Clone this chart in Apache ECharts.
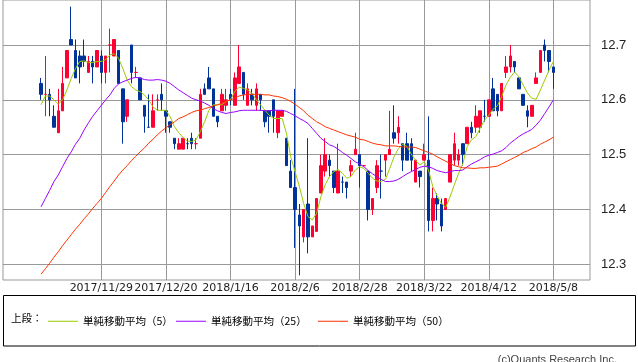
<!DOCTYPE html>
<html><head><meta charset="utf-8">
<script src="https://cdn.jsdelivr.net/npm/echarts@6/dist/echarts.min.js"></script>
<style>html,body{margin:0;padding:0;background:#fff}#c{width:638px;height:362px}</style>
</head><body><div id="c"></div>
<script>
// Trading dates (Japanese calendar)
const dates = [
 '2017/11/8','2017/11/9','2017/11/10','2017/11/13','2017/11/14','2017/11/15','2017/11/16','2017/11/17','2017/11/20','2017/11/21','2017/11/22','2017/11/24','2017/11/27','2017/11/28','2017/11/29','2017/11/30',
 '2017/12/1','2017/12/4','2017/12/5','2017/12/6','2017/12/7','2017/12/8','2017/12/11','2017/12/12','2017/12/13','2017/12/14','2017/12/15','2017/12/18','2017/12/19','2017/12/20','2017/12/21','2017/12/22','2017/12/25','2017/12/26','2017/12/27','2017/12/28','2017/12/29',
 '2018/1/4','2018/1/5','2018/1/9','2018/1/10','2018/1/11','2018/1/12','2018/1/15','2018/1/16','2018/1/17','2018/1/18','2018/1/19','2018/1/22','2018/1/23','2018/1/24','2018/1/25','2018/1/26','2018/1/29','2018/1/30','2018/1/31',
 '2018/2/1','2018/2/2','2018/2/5','2018/2/6','2018/2/7','2018/2/8','2018/2/9','2018/2/13','2018/2/14','2018/2/15','2018/2/16','2018/2/19','2018/2/20','2018/2/21','2018/2/22','2018/2/23','2018/2/26','2018/2/27','2018/2/28',
 '2018/3/1','2018/3/2','2018/3/5','2018/3/6','2018/3/7','2018/3/8','2018/3/9','2018/3/12','2018/3/13','2018/3/14','2018/3/15','2018/3/16','2018/3/19','2018/3/20','2018/3/22','2018/3/23','2018/3/26','2018/3/27','2018/3/28','2018/3/29','2018/3/30',
 '2018/4/2','2018/4/3','2018/4/4','2018/4/5','2018/4/6','2018/4/9','2018/4/10','2018/4/11','2018/4/12','2018/4/13','2018/4/16','2018/4/17','2018/4/18','2018/4/19','2018/4/20','2018/4/23','2018/4/24','2018/4/25','2018/4/26','2018/4/27',
 '2018/5/1','2018/5/2','2018/5/7','2018/5/8'
];
const opens = [
 12.63,12.61,12.61,12.57,12.54,12.58,12.64,12.71,12.69,12.68,
 12.68,12.65,12.67,12.66,12.68,12.65,12.70,12.68,12.69,12.62,
 12.57,12.70,12.65,12.64,12.59,12.55,12.55,12.60,12.61,12.58,
 12.56,12.53,12.51,12.51,12.52,12.53,12.52,12.53,12.62,12.64,
 12.62,12.57,12.58,12.59,12.61,12.59,12.63,12.65,12.59,12.61,
 12.59,12.61,12.58,12.58,12.60,12.54,12.57,12.53,12.47,12.44,
 12.39,12.35,12.41,12.35,12.36,12.43,12.47,12.49,12.47,12.43,
 12.45,12.45,12.47,12.50,12.50,12.48,12.47,12.40,12.44,12.47,
 12.49,12.50,12.54,12.54,12.52,12.52,12.52,12.45,12.47,12.49,
 12.49,12.38,12.42,12.41,12.40,12.45,12.49,12.49,12.52,12.52,
 12.55,12.55,12.55,12.57,12.57,12.62,12.61,12.58,12.65,12.66,
 12.67,12.64,12.61,12.58,12.57,12.63,12.65,12.70,12.69,12.66
];
const closes = [
 12.61,12.61,12.60,12.55,12.58,12.63,12.69,12.70,12.64,12.66,
 12.67,12.67,12.66,12.69,12.65,12.68,12.70,12.71,12.63,12.56,
 12.60,12.65,12.65,12.60,12.57,12.55,12.58,12.60,12.60,12.57,
 12.55,12.52,12.52,12.53,12.52,12.52,12.52,12.61,12.61,12.62,
 12.57,12.56,12.61,12.60,12.60,12.64,12.66,12.61,12.62,12.60,
 12.62,12.60,12.56,12.57,12.57,12.58,12.58,12.48,12.44,12.40,
 12.37,12.40,12.35,12.37,12.42,12.48,12.50,12.48,12.44,12.47,
 12.45,12.44,12.48,12.51,12.48,12.48,12.40,12.42,12.48,12.47,
 12.50,12.51,12.53,12.55,12.49,12.49,12.49,12.49,12.46,12.50,
 12.38,12.42,12.41,12.37,12.42,12.50,12.52,12.50,12.50,12.55,
 12.54,12.57,12.58,12.57,12.60,12.58,12.58,12.63,12.66,12.68,
 12.66,12.62,12.59,12.57,12.59,12.64,12.69,12.69,12.67,12.65
];
const lows = [
 12.60,12.57,12.57,12.55,12.54,12.58,12.64,12.70,12.64,12.63,
 12.66,12.65,12.63,12.66,12.63,12.63,12.65,12.68,12.63,12.52,
 12.56,12.63,12.64,12.60,12.54,12.55,12.55,12.58,12.58,12.54,
 12.54,12.51,12.51,12.51,12.51,12.51,12.51,12.53,12.61,12.62,
 12.57,12.55,12.58,12.58,12.59,12.59,12.63,12.60,12.59,12.59,
 12.58,12.58,12.55,12.54,12.54,12.53,12.57,12.48,12.44,12.33,
 12.28,12.34,12.32,12.35,12.36,12.43,12.46,12.46,12.43,12.43,
 12.43,12.42,12.46,12.50,12.44,12.48,12.38,12.39,12.43,12.42,
 12.46,12.50,12.52,12.52,12.47,12.49,12.47,12.45,12.44,12.49,
 12.36,12.36,12.38,12.36,12.40,12.45,12.48,12.48,12.48,12.52,
 12.53,12.54,12.54,12.56,12.57,12.58,12.57,12.58,12.64,12.65,
 12.65,12.62,12.59,12.55,12.57,12.63,12.65,12.67,12.65,12.62
];
const highs = [
 12.64,12.68,12.62,12.59,12.62,12.66,12.69,12.77,12.71,12.69,
 12.71,12.68,12.68,12.69,12.69,12.68,12.73,12.71,12.69,12.62,
 12.60,12.70,12.66,12.64,12.59,12.61,12.61,12.61,12.63,12.58,
 12.56,12.53,12.53,12.53,12.53,12.54,12.53,12.62,12.63,12.66,
 12.62,12.57,12.62,12.62,12.62,12.65,12.70,12.65,12.63,12.62,
 12.63,12.61,12.58,12.58,12.60,12.58,12.58,12.53,12.49,12.62,
 12.41,12.40,12.53,12.37,12.42,12.50,12.53,12.50,12.47,12.52,
 12.46,12.45,12.49,12.54,12.50,12.48,12.47,12.42,12.49,12.50,
 12.50,12.58,12.59,12.57,12.52,12.54,12.53,12.49,12.47,12.52,
 12.57,12.44,12.43,12.42,12.42,12.50,12.54,12.51,12.52,12.55,
 12.56,12.59,12.58,12.60,12.60,12.64,12.61,12.63,12.68,12.70,
 12.67,12.64,12.61,12.59,12.59,12.65,12.69,12.71,12.69,12.66
];
const ma5 = [
 12.591,12.607,12.607,12.600,12.592,12.600,12.618,12.639,12.657,12.670,
 12.671,12.668,12.668,12.670,12.670,12.673,12.682,12.684,12.676,12.657,
 12.636,12.624,12.618,12.615,12.609,12.600,12.587,12.581,12.581,12.581,
 12.569,12.551,12.540,12.531,12.525,12.524,12.527,12.542,12.560,12.581,
 12.591,12.591,12.591,12.597,12.600,12.615,12.623,12.621,12.618,12.612,
 12.600,12.591,12.581,12.572,12.566,12.566,12.566,12.539,12.496,12.469,
 12.442,12.411,12.387,12.381,12.393,12.423,12.445,12.460,12.469,12.473,
 12.466,12.457,12.460,12.472,12.478,12.475,12.466,12.457,12.452,12.451,
 12.455,12.475,12.496,12.511,12.519,12.515,12.501,12.490,12.481,12.487,
 12.472,12.442,12.425,12.411,12.404,12.423,12.445,12.466,12.484,12.515,
 12.527,12.533,12.548,12.563,12.572,12.583,12.589,12.606,12.627,12.641,
 12.651,12.642,12.627,12.612,12.603,12.601,12.618,12.636,12.654,12.670
];
const ma25 = [
 12.405,12.420,12.435,12.451,12.463,12.478,12.493,12.505,12.519,12.530,
 12.545,12.558,12.570,12.580,12.590,12.600,12.609,12.621,12.629,12.633,
 12.636,12.639,12.641,12.640,12.637,12.636,12.636,12.637,12.636,12.634,
 12.630,12.624,12.618,12.613,12.608,12.603,12.600,12.598,12.594,12.590,
 12.584,12.580,12.577,12.575,12.577,12.578,12.580,12.581,12.581,12.581,
 12.581,12.581,12.580,12.580,12.581,12.581,12.581,12.579,12.575,12.571,
 12.566,12.562,12.557,12.548,12.539,12.530,12.524,12.518,12.515,12.510,
 12.504,12.499,12.493,12.487,12.483,12.478,12.471,12.465,12.460,12.455,
 12.451,12.451,12.452,12.455,12.460,12.465,12.469,12.473,12.477,12.479,
 12.478,12.475,12.471,12.469,12.467,12.469,12.471,12.471,12.472,12.478,
 12.483,12.487,12.491,12.496,12.499,12.501,12.504,12.507,12.513,12.521,
 12.527,12.533,12.538,12.542,12.546,12.554,12.563,12.575,12.587,12.600
];
const ma50 = [
 12.282,12.292,12.302,12.313,12.323,12.334,12.344,12.354,12.364,12.373,
 12.383,12.392,12.402,12.411,12.420,12.431,12.442,12.452,12.463,12.472,
 12.480,12.489,12.497,12.505,12.512,12.521,12.528,12.536,12.543,12.549,
 12.555,12.560,12.566,12.569,12.573,12.577,12.580,12.581,12.584,12.586,
 12.589,12.591,12.594,12.597,12.600,12.603,12.607,12.609,12.610,12.610,
 12.610,12.610,12.609,12.609,12.607,12.606,12.604,12.601,12.597,12.592,
 12.586,12.580,12.572,12.566,12.560,12.556,12.551,12.548,12.545,12.542,
 12.539,12.536,12.534,12.532,12.528,12.527,12.524,12.521,12.519,12.518,
 12.516,12.516,12.516,12.515,12.514,12.514,12.514,12.513,12.510,12.507,
 12.504,12.501,12.496,12.492,12.488,12.484,12.480,12.478,12.476,12.476,
 12.475,12.475,12.476,12.476,12.477,12.478,12.479,12.483,12.487,12.491,
 12.495,12.499,12.504,12.507,12.511,12.514,12.519,12.523,12.527,12.532
];
const tickLabels = ['2017/11/29','2017/12/20','2018/1/16','2018/2/6','2018/2/28','2018/3/22','2018/4/12','2018/5/8'];
const yTicks = [12.3, 12.4, 12.5, 12.6, 12.7];
const seriesNames = ['単純移動平均（5）','単純移動平均（25）','単純移動平均（50）'];

// layout constants
const PAD_L = 8, PAD_R = 9;
const yMin = 12.2714, yMax = 12.7821;
const slot = 4.3048;
const cats = [];
for (let k = 0; k < PAD_L; k++) cats.push('_l' + k);
dates.forEach(d => cats.push(d));
for (let k = 0; k < PAD_R; k++) cats.push('_r' + k);
const pad = (arr) => [...Array(PAD_L).fill('-'), ...arr, ...Array(PAD_R).fill('-')];
const candle = pad(dates.map((d, i) => [opens[i], closes[i], lows[i], highs[i]]));
const isTick = (idx, val) => tickLabels.indexOf(val) >= 0;

const chart = echarts.init(document.getElementById('c'), null, {renderer: 'canvas'});
const FONT = "'Noto Sans CJK JP', sans-serif";
const grey = '#999';
const gridTopPx = 0, gridH = 280;
const pxPer = gridH / (yMax - yMin);
const yTopTick = gridTopPx + (yMax - yTicks[yTicks.length - 1]) * pxPer;
const yBotTick = gridTopPx + (yMax - yTicks[0]) * pxPer;

chart.setOption({
  animation: false,
  textStyle: {fontFamily: FONT},
  grid: [
    {left: 3, top: gridTopPx, width: 587, height: gridH, show: true, borderColor: grey, borderWidth: 1, backgroundColor: 'transparent'},
    {left: 3, top: yTopTick, width: 587, height: yBotTick - yTopTick},
    {left: 6.62, top: gridTopPx, width: slot * (cats.length - 1), height: gridH}
  ],
  xAxis: [
    {gridIndex: 0, type: 'value', show: false},
    {gridIndex: 1, type: 'value', show: false},
    {gridIndex: 2, type: 'category', data: cats, boundaryGap: false,
     axisLine: {show: false}, axisTick: {show: false},
     splitLine: {show: true, interval: isTick, lineStyle: {color: grey, width: 1}},
     axisLabel: {interval: isTick, formatter: v => tickLabels.indexOf(v) >= 0 ? v : '', margin: 3,
       fontFamily: 'DejaVu Sans', fontSize: 11, color: '#222'}}
  ],
  yAxis: [
    {gridIndex: 0, type: 'value', show: false},
    {gridIndex: 1, type: 'value', position: 'right', min: yTicks[0], max: yTicks[yTicks.length - 1], interval: 0.1,
     axisLine: {show: false},
     axisTick: {show: true, inside: false, length: 6, lineStyle: {color: grey}},
     splitLine: {show: true, lineStyle: {color: grey, width: 1}},
     axisLabel: {margin: 11, formatter: v => v.toFixed(1), fontFamily: 'Liberation Sans', fontSize: 13, color: '#222'}},
    {gridIndex: 2, type: 'value', min: yMin, max: yMax, show: false, splitLine: {show: false}}
  ],
  legend: [
    {left: 43, top: 311, data: [seriesNames[0]], icon: 'rect', itemWidth: 30, itemHeight: 1, itemGap: 0,
     textStyle: {fontFamily: FONT, fontSize: 10.5, color: '#000'}},
    {left: 171, top: 311, data: [seriesNames[1]], icon: 'rect', itemWidth: 30, itemHeight: 1, itemGap: 0,
     textStyle: {fontFamily: FONT, fontSize: 10.5, color: '#000'}},
    {left: 313, top: 311, data: [seriesNames[2]], icon: 'rect', itemWidth: 30, itemHeight: 1, itemGap: 0,
     textStyle: {fontFamily: FONT, fontSize: 10.5, color: '#000'}}
  ],
  graphic: [
    {type: 'rect', shape: {x: 3.5, y: 295.5, width: 632, height: 50.5}, style: {fill: 'none', stroke: '#000', lineWidth: 1}, silent: true},
    {type: 'text', x: 11, y: 318, style: {text: '上段：', font: "10.5px 'Noto Sans CJK JP'", fill: '#000', verticalAlign: 'middle'}},
    {type: 'text', x: 617, y: 354.5, style: {text: '(c)Quants Research Inc.', font: "11px 'Liberation Sans'", fill: '#444', align: 'right', verticalAlign: 'top'}}
  ],
  series: [
    {type: 'candlestick', xAxisIndex: 2, yAxisIndex: 2, data: candle, barWidth: 3,
     itemStyle: {color: '#FF0033', color0: '#003399', borderColor: '#FF0033', borderColor0: '#003399', borderWidth: 1}},
    {name: seriesNames[0], type: 'line', xAxisIndex: 2, yAxisIndex: 2, data: pad(ma5), showSymbol: false, symbol: 'none',
     lineStyle: {color: '#99CC00', width: 1}, itemStyle: {color: '#99CC00'}},
    {name: seriesNames[1], type: 'line', xAxisIndex: 2, yAxisIndex: 2, data: pad(ma25), showSymbol: false, symbol: 'none',
     lineStyle: {color: '#9900FF', width: 1}, itemStyle: {color: '#9900FF'}},
    {name: seriesNames[2], type: 'line', xAxisIndex: 2, yAxisIndex: 2, data: pad(ma50), showSymbol: false, symbol: 'none',
     lineStyle: {color: '#FF3300', width: 1}, itemStyle: {color: '#FF3300'}}
  ]
});
</script>
</body></html>
